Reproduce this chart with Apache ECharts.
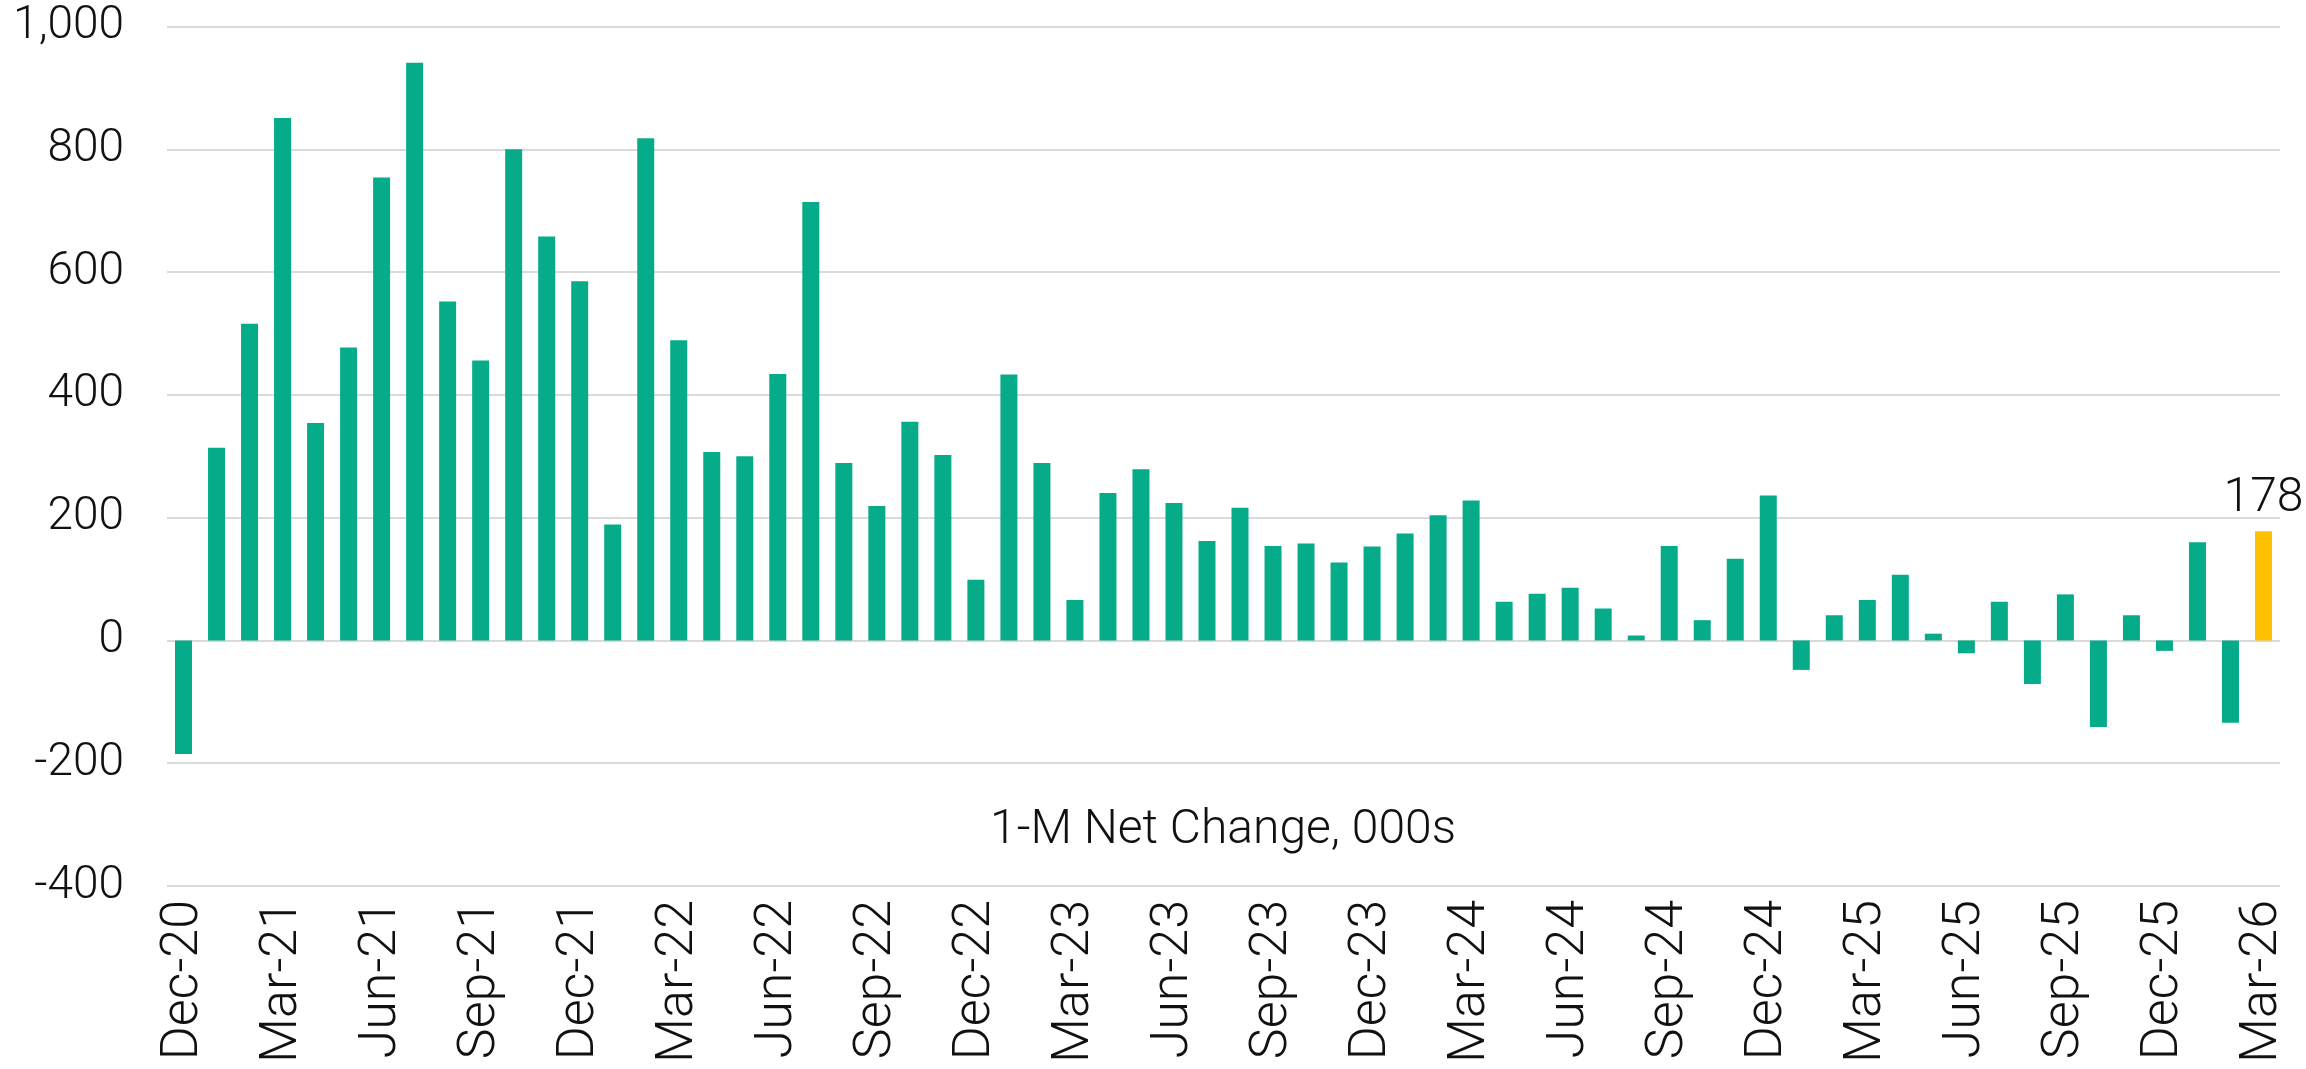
<!DOCTYPE html>
<html>
<head>
<meta charset="utf-8">
<script src="https://cdn.jsdelivr.net/npm/echarts@6/dist/echarts.min.js"></script>
<style>
    html, body { margin: 0; padding: 0; background: #fff; }
    #chart { width: 2306px; height: 1069px; }
</style>
</head>
<body>
<div id="chart"></div>
<script>
    // months, Dec-20 .. Mar-26
    var months = [
        'Dec-20', 'Jan-21', 'Feb-21', 'Mar-21', 'Apr-21', 'May-21', 'Jun-21', 'Jul-21', 'Aug-21', 'Sep-21', 'Oct-21', 'Nov-21',
        'Dec-21', 'Jan-22', 'Feb-22', 'Mar-22', 'Apr-22', 'May-22', 'Jun-22', 'Jul-22', 'Aug-22', 'Sep-22', 'Oct-22', 'Nov-22',
        'Dec-22', 'Jan-23', 'Feb-23', 'Mar-23', 'Apr-23', 'May-23', 'Jun-23', 'Jul-23', 'Aug-23', 'Sep-23', 'Oct-23', 'Nov-23',
        'Dec-23', 'Jan-24', 'Feb-24', 'Mar-24', 'Apr-24', 'May-24', 'Jun-24', 'Jul-24', 'Aug-24', 'Sep-24', 'Oct-24', 'Nov-24',
        'Dec-24', 'Jan-25', 'Feb-25', 'Mar-25', 'Apr-25', 'May-25', 'Jun-25', 'Jul-25', 'Aug-25', 'Sep-25', 'Oct-25', 'Nov-25',
        'Dec-25', 'Jan-26', 'Feb-26', 'Mar-26'
    ];

    // 1-M net change, 000s
    var netChange = [
        -185, 314, 516, 851, 354, 477, 754, 941, 552, 456, 800, 658,
        585, 189, 818, 489, 307, 300, 434, 714, 289, 219, 356, 302,
        99, 433, 289, 66, 240, 279, 224, 162, 216, 154, 158, 127,
        153, 174, 204, 228, 63, 76, 86, 52, 8, 154, 33, 133,
        236, -48, 41, 66, 107, 11, -21, 63, -71, 75, -141, 41,
        -17, 160, -134, 178
    ];

    var yTicks = { min: -400, max: 1000, step: 200 };
    var seriesName = '1-M Net Change, 000s';

    var GREEN = '#06ac8a';
    var GOLD = '#ffc000';
    var FONT = 'Roboto';

    var chart = echarts.init(document.getElementById('chart'));

    var barData = netChange.map(function (v, i) {
        if (i === netChange.length - 1) {
            // latest month is highlighted and labelled
            return {
                value: v,
                itemStyle: { color: GOLD },
                label: {
                    show: true,
                    position: 'top',
                    distance: 8,
                    fontFamily: FONT,
                    fontWeight: 300,
                    fontSize: 48,
                    color: '#111'
                }
            };
        }
        return v;
    });

    chart.setOption({
        animation: false,
        backgroundColor: '#fff',
        grid: {
            left: 167,
            right: 26,
            top: 26.5,
            bottom: 183
        },
        xAxis: {
            type: 'category',
            data: months,
            axisLine: { show: false, onZero: false },
            axisTick: { show: false },
            axisLabel: {
                interval: 2,
                rotate: 90,
                margin: 14,
                fontFamily: FONT,
                fontWeight: 300,
                fontSize: 52,
                color: '#111'
            }
        },
        yAxis: {
            type: 'value',
            min: yTicks.min,
            max: yTicks.max,
            interval: yTicks.step,
            axisLine: { show: false },
            axisTick: { show: false },
            splitLine: { lineStyle: { color: '#dadada', width: 2 } },
            axisLabel: {
                margin: 43,
                fontFamily: FONT,
                fontWeight: 300,
                fontSize: 46,
                color: '#111',
                formatter: function (v) {
                    return v.toLocaleString('en-US');
                }
            }
        },
        graphic: [{
            type: 'text',
            x: 1223,
            y: 831,
            style: {
                text: seriesName,
                fontFamily: FONT,
                fontWeight: 300,
                fontSize: 48,
                fill: '#111',
                textAlign: 'center',
                textVerticalAlign: 'middle'
            }
        }],
        series: [{
            name: seriesName,
            type: 'bar',
            barWidth: 17,
            itemStyle: { color: GREEN },
            data: barData
        }]
    });
</script>
</body>
</html>
